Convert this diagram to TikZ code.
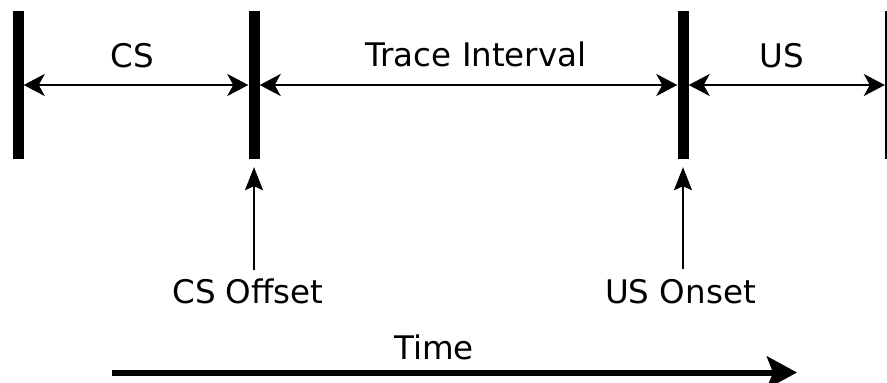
\documentclass[tikz,border=0pt]{standalone}
\usepackage{fontspec}
\setmainfont{DejaVu Sans}
\usetikzlibrary{arrows.meta}
\begin{document}
\begin{tikzpicture}[x=1pt,y=-1pt,
  bar/.style={fill=black, inner sep=0pt, minimum width=11pt, minimum height=148pt},
  lbl/.style={font=\fontsize{32.5}{38}\selectfont, anchor=base, inner sep=0pt},
  spanarrow/.style={line width=2.5pt, {Stealth[length=21pt,width=22pt,inset=6pt]}-{Stealth[length=21pt,width=22pt,inset=6pt]}},
  pointer/.style={line width=2pt, -{Stealth[length=23pt,width=18pt,inset=4pt]}},
  timearrow/.style={line width=6pt, -{Stealth[length=30pt,width=32pt,inset=6pt]}}
]
\useasboundingbox (0,0) rectangle (887,383);
\node[bar] (b1) at (18,85) {};
\node[bar] (b2) at (254,85) {};
\node[bar] (b3) at (683,85) {};
\node[bar, minimum width=3pt] (b4) at (886.5,85) {};
\draw[spanarrow] (b1.east) -- (b2.west);
\draw[spanarrow] (b2.east) -- (b3.west);
\draw[spanarrow] (b3.east) -- (b4.west);
\node[lbl] (cs) at (132,67) {CS};
\node[lbl] (ti) at (476,66) {Trace Interval};
\node[lbl] (us) at (782,67) {US};
\node[lbl] (cso) at (248,303) {CS Offset};
\node[lbl] (uso) at (680.5,303) {US Onset};
\node[lbl] (time) at (434,359) {Time};
\coordinate (p1) at (254,270);
\coordinate (p2) at (683,269);
\draw[pointer] (p1) -- ([yshift=-8pt]b2.south);
\draw[pointer] (p2) -- ([yshift=-8pt]b3.south);
\coordinate (t0) at (112,372.5);
\coordinate (t1) at (797,372.5);
\draw[timearrow] (t0) -- (t1);
\end{tikzpicture}
\end{document}
